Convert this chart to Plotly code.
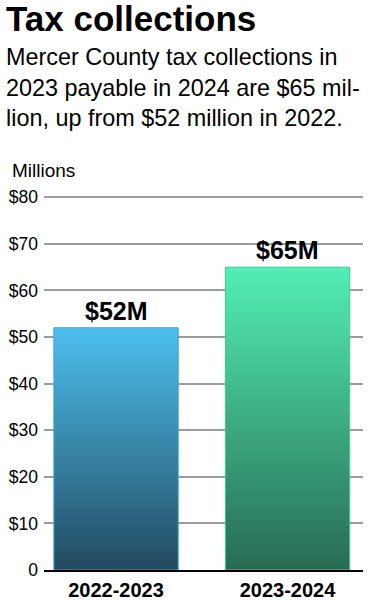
import plotly.graph_objects as go

categories = ["2022-2023", "2023-2024"]
values = [52, 65]
value_labels = ["$52M", "$65M"]
top_colors = ["#4dbfee", "#53efb5"]
bottom_colors = ["#234a60", "#276b52"]
edge_colors = ["#35a9e0", "#3cc894"]
tick_vals = [0, 10, 20, 30, 40, 50, 60, 70, 80]
tick_text = ["0", "$10", "$20", "$30", "$40", "$50", "$60", "$70", "$80"]

FONT = "Liberation Sans, Arial, Helvetica, sans-serif"
W, H = 371, 600
L, R, T, B = 44, 8, 188, 30
PW, PH = W - L - R, H - T - B
BAR_W = 0.725


def px(x):
    return (x - L) / PW


def py(y):
    return (H - B - y) / PH


fig = go.Figure()
for i, (cat, v) in enumerate(zip(categories, values)):
    x0, x1 = i - BAR_W / 2, i + BAR_W / 2
    fig.add_trace(go.Scatter(
        x=[x0, x1, x1, x0, x0], y=[0, 0, v, v, 0],
        mode="lines", fill="toself",
        line=dict(color=edge_colors[i], width=1),
        fillgradient=dict(type="vertical",
                          colorscale=[[0, bottom_colors[i]], [1, top_colors[i]]]),
        hoverinfo="skip", showlegend=False, name=cat,
    ))

annotations = []
for i, (v, lab) in enumerate(zip(values, value_labels)):
    annotations.append(dict(x=i, y=v, xref="x", yref="y", text=f"<b>{lab}</b>",
                            showarrow=False, yanchor="bottom", yshift=1,
                            font=dict(family=FONT, size=25, color="#000")))

annotations += [
    dict(x=px(4), y=py(19), xref="paper", yref="paper", xanchor="left", yanchor="middle",
         text="<b>Tax collections</b>", showarrow=False,
         font=dict(family=FONT, size=35, color="#000")),
    dict(x=px(4), y=py(57), xref="paper", yref="paper", xanchor="left", yanchor="middle",
         text="Mercer County tax collections in", showarrow=False,
         font=dict(family=FONT, size=23.4, color="#000")),
    dict(x=px(4), y=py(88), xref="paper", yref="paper", xanchor="left", yanchor="middle",
         text="2023 payable in 2024 are $65 mil-", showarrow=False,
         font=dict(family=FONT, size=23.4, color="#000")),
    dict(x=px(4), y=py(118), xref="paper", yref="paper", xanchor="left", yanchor="middle",
         text="lion, up from $52 million in 2022.", showarrow=False,
         font=dict(family=FONT, size=23.4, color="#000")),
    dict(x=px(10), y=py(170), xref="paper", yref="paper", xanchor="left", yanchor="middle",
         text="Millions", showarrow=False,
         font=dict(family=FONT, size=19, color="#000")),
]

fig.update_layout(
    width=W, height=H,
    margin=dict(l=L, r=R, t=T, b=B, autoexpand=False),
    paper_bgcolor="white", plot_bgcolor="white",
    annotations=annotations,
    showlegend=False,
)
fig.update_xaxes(
    range=[-0.42, 1.44], tickvals=[0, 1],
    ticktext=[f"<b>{c}</b>" for c in categories],
    tickfont=dict(family=FONT, size=20, color="#000"),
    showgrid=False, zeroline=False, automargin=False,
    showline=True, linecolor="#000", linewidth=2,
    ticks="", ticklabelstandoff=1,
)
fig.update_yaxes(
    range=[0, 82], tickvals=tick_vals, ticktext=tick_text,
    tickfont=dict(family=FONT, size=17.5, color="#000"),
    showgrid=True, gridcolor="#9b9b9b", gridwidth=2,
    zeroline=False, showline=False, ticks="", ticklabelstandoff=5,
    automargin=False,
)

fig.write_html("out.html",
               config={"displayModeBar": False},
               post_script="document.body.style.margin='0';document.body.style.overflow='hidden';")
